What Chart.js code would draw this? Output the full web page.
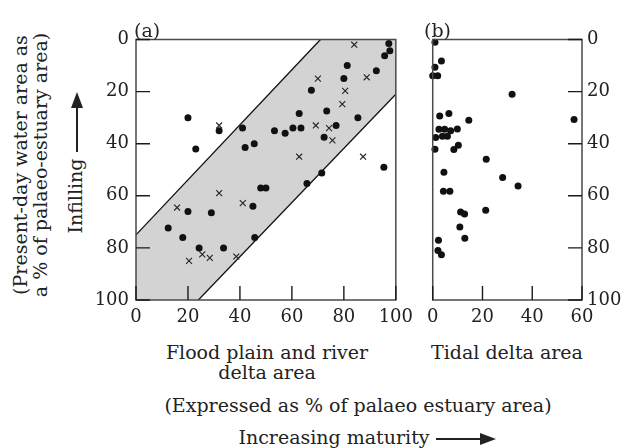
<!DOCTYPE html>
<html lang="en">
<head>
    <meta charset="UTF-8">
    <title>Estuary infilling</title>
    <style>
        body { margin: 0; background: #fff; }
        #wrap {
            position: relative;
            width: 623px;
            height: 448px;
            overflow: hidden;
            font-family: "DejaVu Serif", serif;
            color: #222;
        }
        canvas { position: absolute; top: 0; }
        .lbl {
            position: absolute;
            font-size: 19px;
            line-height: 20px;
            white-space: nowrap;
            text-align: center;
        }
        .shaft {
            display: inline-block;
            height: 1.2px;
            background: #222;
            vertical-align: middle;
        }
        .head {
            display: inline-block;
            width: 0;
            height: 0;
            border-top: 6.5px solid transparent;
            border-bottom: 6.5px solid transparent;
            border-left: 16px solid #222;
            vertical-align: middle;
        }
    </style>
    <script src="https://cdn.jsdelivr.net/npm/chart.js"></script>
</head>
<body>
<div id="wrap">
    <canvas id="floodChart" width="330" height="330" style="left:90px"></canvas>
    <canvas id="tidalChart" width="203" height="330" style="left:420px"></canvas>

    <div class="lbl" style="left:-120px; top:145px; width:300px; height:40px; transform:rotate(-90deg)">(Present-day water area as<br>a % of palaeo-estuary area)</div>
    <div class="lbl" style="left:-5px; top:153px; width:160px; height:20px; transform:rotate(-90deg)">Infilling <span class="shaft" style="width:44px"></span><span class="head"></span></div>

    <div class="lbl" style="left:134px; top:20px; text-align:left">(a)</div>
    <div class="lbl" style="left:424px; top:20px; text-align:left">(b)</div>

    <div class="lbl" style="left:116px; top:342px; width:302px">Flood plain and river<br>delta area</div>
    <div class="lbl" style="left:412px; top:342px; width:190px">Tidal delta area</div>
    <div class="lbl" style="left:100px; top:395px; width:516px">(Expressed as % of palaeo estuary area)</div>
    <div class="lbl" style="left:109px; top:427px; width:516px">Increasing maturity <span class="shaft" style="width:44px"></span><span class="head"></span></div>
</div>

<script>
    // panel (a): flood plain and river delta area vs present-day water area
    const floodDotX = [20, 32, 41, 23, 42, 45.5, 97.3, 97.7, 95.7, 81.3, 92.5, 80, 67.5, 73.4, 62.8, 85.4,
        53.3, 57.4, 60.4, 63.5, 77, 72.4, 95.4, 48, 50, 20, 29, 45, 12.4, 18, 45.7, 24.3, 33.7, 65.8, 71.5];
    const floodDotY = [30, 35, 34, 42, 41.5, 40, 1.5, 4.3, 6.2, 10, 12, 15, 19.5, 27.4, 28.4, 30,
        35, 36, 34, 34, 33, 37.5, 49, 57, 57, 66, 66.5, 64, 72.4, 76, 76, 80, 80, 55.3, 51.2];
    const floodCrossX = [32, 84, 70, 88.8, 80.5, 79.4, 69.2, 74.3, 75.6, 62.8, 87.4, 32, 15.8, 41.1, 25.5, 28.4, 20.4, 38.6];
    const floodCrossY = [33, 2, 15, 14.5, 19.7, 24.8, 33, 34, 38.7, 45, 45, 59, 64.5, 62.8, 82.5, 83.8, 85, 83.3];

    // shaded band edges (x, y at each end)
    const bandUpperX = [0, 71];
    const bandUpperY = [75, 0];
    const bandLowerX = [24, 100];
    const bandLowerY = [100, 21];

    // panel (b): tidal delta area
    const tidalDotX = [0.9, 3.5, 0.9, 0, 2, 31.9, 6.5, 2.8, 14.5, 56.8, 2.5, 4.8, 7.2, 9.9, 1.2, 3.9, 5.9,
        10.3, 8.5, 0.9, 21.5, 4.5, 28.1, 34.3, 4.3, 6.9, 11.2, 12.8, 21.3, 10.9, 12.9, 2.3, 2.1, 3.5];
    const tidalDotY = [1.1, 8.3, 10.7, 13.9, 13.9, 21, 28.4, 29.4, 31, 30.7, 34.5, 34.5, 35, 34.4, 37.6, 37.1, 37.1,
        40.6, 42.2, 42.1, 46, 51, 53, 56.2, 58.3, 58.3, 66.2, 67, 65.5, 72, 76.3, 77.1, 81, 82.6];

    const floodTicks = [0, 20, 40, 60, 80, 100];
    const tidalTicks = [0, 20, 40, 60];
    const waterTicks = [0, 20, 40, 60, 80, 100];

    const pts = (xs, ys) => xs.map((x, i) => ({ x: x, y: ys[i] }));
    const tickFont = { family: '"DejaVu Serif", serif', size: 18 };

    // box round the plot area and inward tick marks
    const frameAndTicks = {
        id: 'frameAndTicks',
        afterDatasetsDraw(chart) {
            const ctx = chart.ctx;
            const a = chart.chartArea;
            const xs = chart.scales.x;
            const ys = chart.scales.y;
            ctx.save();
            ctx.strokeStyle = '#4a4a4a';
            ctx.lineWidth = 1.5;
            ctx.strokeRect(a.left, a.top, a.right - a.left, a.bottom - a.top);
            ctx.strokeStyle = '#1a1a1a';
            ctx.lineWidth = 1.4;
            ctx.beginPath();
            xs.ticks.forEach(t => {
                const px = xs.getPixelForValue(t.value);
                ctx.moveTo(px, a.bottom);
                ctx.lineTo(px, a.bottom - 14);
            });
            const side = ys.position === 'right' ? a.right : a.left;
            const dir = ys.position === 'right' ? -1 : 1;
            ys.ticks.forEach(t => {
                const py = ys.getPixelForValue(t.value);
                ctx.moveTo(side, py);
                ctx.lineTo(side + dir * 14, py);
            });
            ctx.stroke();
            ctx.restore();
        }
    };

    function axis(min, max, ticks, extra) {
        return Object.assign({
            type: 'linear',
            min: min,
            max: max,
            afterBuildTicks: s => { s.ticks = ticks.map(v => ({ value: v })); },
            grid: { display: false, drawTicks: false },
            border: { display: false },
            ticks: { color: '#222', font: tickFont, padding: 7, maxRotation: 0, autoSkip: false }
        }, extra);
    }

    const dotStyle = { pointStyle: 'circle', pointRadius: 3.5, backgroundColor: '#111', borderWidth: 0, clip: false };

    // panel (a)
    const bandShape = [
        { x: bandUpperX[0], y: bandUpperY[0] },
        { x: bandUpperX[1], y: bandUpperY[1] },
        { x: 100, y: 0 },
        { x: bandLowerX[1], y: bandLowerY[1] },
        { x: bandLowerX[0], y: bandLowerY[0] },
        { x: 0, y: 100 }
    ];

    new Chart(document.getElementById('floodChart'), {
        type: 'scatter',
        data: {
            datasets: [
                Object.assign({ label: 'dots', data: pts(floodDotX, floodDotY), order: 0 }, dotStyle),
                {
                    label: 'crosses', data: pts(floodCrossX, floodCrossY), order: 1,
                    pointStyle: 'crossRot', pointRadius: 4.2, borderColor: '#222', borderWidth: 1.1, clip: false
                },
                {
                    label: 'upper', data: pts(bandUpperX, bandUpperY), order: 2, showLine: true,
                    borderColor: '#111', borderWidth: 1.3, pointRadius: 0, fill: false
                },
                {
                    label: 'lower', data: pts(bandLowerX, bandLowerY), order: 2, showLine: true,
                    borderColor: '#111', borderWidth: 1.3, pointRadius: 0, fill: false
                },
                {
                    label: 'band', data: bandShape, order: 3, showLine: true,
                    borderWidth: 0, borderColor: 'rgba(0,0,0,0)', pointRadius: 0,
                    fill: 'shape', backgroundColor: '#d3d3d3'
                }
            ]
        },
        options: {
            responsive: false,
            animation: false,
            events: [],
            layout: { padding: { left: 0, top: 39.5, right: 22.5, bottom: 0 } },
            plugins: { legend: { display: false }, tooltip: { enabled: false } },
            scales: {
                x: axis(0, 100, floodTicks, { afterFit: s => { s.height = 30; } }),
                y: axis(0, 100, waterTicks, { reverse: true, position: 'left', afterFit: s => { s.width = 46; } })
            }
        },
        plugins: [frameAndTicks]
    });

    // panel (b)
    new Chart(document.getElementById('tidalChart'), {
        type: 'scatter',
        data: {
            datasets: [
                Object.assign({ label: 'dots', data: pts(tidalDotX, tidalDotY) }, dotStyle)
            ]
        },
        options: {
            responsive: false,
            animation: false,
            events: [],
            layout: { padding: { left: 12, top: 39.5, right: 0, bottom: 0 } },
            plugins: { legend: { display: false }, tooltip: { enabled: false } },
            scales: {
                x: axis(0, 60, tidalTicks, { afterFit: s => { s.height = 30; } }),
                y: axis(0, 100, waterTicks, {
                    reverse: true, position: 'right', afterFit: s => { s.width = 41; },
                    ticks: { color: '#222', font: tickFont, padding: 5, autoSkip: false }
                })
            }
        },
        plugins: [frameAndTicks]
    });
</script>
</body>
</html>
